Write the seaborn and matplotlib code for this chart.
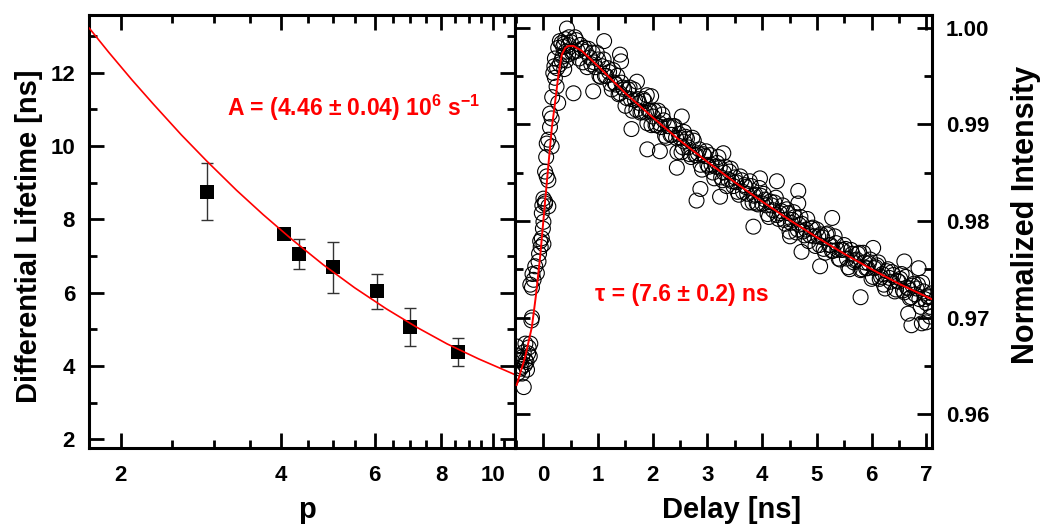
import matplotlib
matplotlib.use("Agg")
import matplotlib.pyplot as plt
from matplotlib.ticker import FixedLocator, FixedFormatter, NullFormatter, MultipleLocator, FormatStrFormatter
import seaborn as sns

# Panel izquierdo: tiempo de vida diferencial vs p
p_values = [2.90, 4.06, 4.32, 5.00, 6.05, 6.99, 8.61]
lifetime_ns = [8.75, 7.59, 7.05, 6.69, 6.03, 5.07, 4.38]
lifetime_err = [0.78, 0.0, 0.41, 0.70, 0.48, 0.52, 0.39]

fit_p = [1.744, 1.9, 2.1, 2.3, 2.6, 2.9, 3.3, 3.7, 4.2, 4.8, 5.5, 6.3, 7.2, 8.2, 9.4, 11.0]
fit_lifetime = [13.22, 12.55, 11.80, 11.15, 10.30, 9.59, 8.79, 8.13, 7.44, 6.76, 6.13, 5.56,
                5.05, 4.60, 4.19, 3.76]

# Panel derecho: intensidad normalizada vs retardo
rise_delay = [-0.49, -0.46, -0.45, -0.43, -0.40, -0.39, -0.39, -0.36, -0.36, -0.34,
              -0.33, -0.33, -0.30, -0.28, -0.27, -0.24, -0.22, -0.21, -0.24, -0.21,
              -0.18, -0.15, -0.12, -0.09, -0.06, -0.03, -0.05, 0.00, -0.03, 0.00,
              0.03, 0.09, 0.00, 0.03, -0.02, 0.03, 0.06, 0.09, 0.09, 0.06,
              0.15, 0.12, 0.15, 0.18, 0.21, 0.24, 0.27, 0.21, 0.27, 0.33,
              0.36, 0.30, 0.35, 0.40, 0.45, 0.40, 0.43, 0.38, 0.46, 0.25,
              0.30, 0.33, 0.38, 0.42, 0.47, 0.20, 0.16, 0.12, 0.05, -0.01,
              -0.08, -0.20, -0.25, -0.31, -0.42, -0.47]
rise_intensity = [0.9670, 0.9643, 0.9656, 0.9656, 0.9649, 0.9642, 0.9659, 0.9664, 0.9628, 0.9651,
                  0.9656, 0.9673, 0.9646, 0.9663, 0.9669, 0.9673, 0.9697, 0.9700, 0.9734, 0.9731,
                  0.9739, 0.9753, 0.9746, 0.9758, 0.9779, 0.9782, 0.9773, 0.9776, 0.9808, 0.9799,
                  0.9818, 0.9815, 0.9823, 0.9820, 0.9816, 0.9851, 0.9846, 0.9842, 0.9884, 0.9880,
                  0.9877, 0.9911, 0.9906, 0.9953, 0.9948, 0.9939, 0.9922, 0.9968, 0.9979, 0.9984,
                  0.9980, 0.9962, 0.9970, 0.9975, 0.9972, 0.9988, 0.9999, 0.9957, 0.9982, 0.9958,
                  0.9986, 0.9966, 0.9983, 0.9966, 0.9990, 0.9960, 0.9928, 0.9897, 0.9866, 0.9792,
                  0.9766, 0.9745, 0.9660, 0.9654, 0.9647, 0.9660]

decay_delay = [0.50, 0.55, 0.60, 0.65, 0.70, 0.75, 0.80, 0.85, 0.90, 0.95,
               1.00, 1.05, 1.10, 1.15, 1.20, 1.25, 1.30, 1.35, 1.40, 1.45,
               1.50, 1.55, 1.60, 1.65, 1.70, 1.75, 1.80, 1.85, 1.90, 1.95,
               2.00, 2.05, 2.10, 2.15, 2.20, 2.25, 2.30, 2.35, 2.40, 2.45,
               2.50, 2.55, 2.60, 2.65, 2.70, 2.75, 2.80, 2.85, 2.90, 2.95,
               3.00, 3.05, 3.10, 3.15, 3.20, 3.25, 3.30, 3.35, 3.40, 3.45,
               3.50, 3.55, 3.60, 3.65, 3.70, 3.75, 3.80, 3.85, 3.90, 3.95,
               4.00, 4.05, 4.10, 4.15, 4.20, 4.25, 4.30, 4.35, 4.40, 4.45,
               4.50, 4.55, 4.60, 4.65, 4.70, 4.75, 4.80, 4.85, 4.90, 4.95,
               5.00, 5.05, 5.10, 5.15, 5.20, 5.25, 5.30, 5.35, 5.40, 5.45,
               5.50, 5.55, 5.60, 5.65, 5.70, 5.75, 5.80, 5.85, 5.90, 5.95,
               6.00, 6.05, 6.10, 6.15, 6.20, 6.25, 6.30, 6.35, 6.40, 6.45,
               6.50, 6.55, 6.60, 6.65, 6.70, 6.75, 6.80, 6.85, 6.90, 6.95, 7.00, 7.05, 7.10]
decay_intensity = [0.9985, 0.9975, 0.9987, 0.9968, 0.9978, 0.9979, 0.9959, 0.9969, 0.9974, 0.9959,
                   0.9967, 0.9949, 0.9967, 0.9950, 0.9954, 0.9936, 0.9943, 0.9950, 0.9932, 0.9938,
                   0.9919, 0.9936, 0.9926, 0.9936, 0.9915, 0.9922, 0.9913, 0.9924, 0.9901, 0.9914,
                   0.9908, 0.9899, 0.9914, 0.9897, 0.9904, 0.9886, 0.9898, 0.9889, 0.9898, 0.9871,
                   0.9886, 0.9876, 0.9887, 0.9876, 0.9866, 0.9883, 0.9868, 0.9874, 0.9853, 0.9867,
                   0.9858, 0.9868, 0.9850, 0.9856, 0.9866, 0.9845, 0.9850, 0.9836, 0.9851, 0.9841,
                   0.9845, 0.9830, 0.9846, 0.9830, 0.9835, 0.9819, 0.9836, 0.9826, 0.9818, 0.9834,
                   0.9818, 0.9822, 0.9807, 0.9820, 0.9811, 0.9824, 0.9802, 0.9810, 0.9801, 0.9812,
                   0.9789, 0.9801, 0.9804, 0.9791, 0.9804, 0.9789, 0.9791, 0.9779, 0.9792, 0.9784,
                   0.9791, 0.9775, 0.9783, 0.9767, 0.9787, 0.9775, 0.9769, 0.9777, 0.9761, 0.9770,
                   0.9775, 0.9761, 0.9750, 0.9766, 0.9759, 0.9766, 0.9749, 0.9767, 0.9751, 0.9756,
                   0.9740, 0.9751, 0.9754, 0.9740, 0.9745, 0.9730, 0.9750, 0.9737, 0.9744, 0.9729,
                   0.9737, 0.9745, 0.9726, 0.9731, 0.9720, 0.9733, 0.9724, 0.9734, 0.9711, 0.9727,
                   0.9715, 0.9721, 0.9725]

decay2_delay = [0.525, 0.575, 0.625, 0.675, 0.725, 0.775, 0.825, 0.875, 0.925, 0.975,
                1.025, 1.075, 1.125, 1.175, 1.225, 1.275, 1.325, 1.375, 1.425, 1.475,
                1.525, 1.575, 1.625, 1.675, 1.725, 1.775, 1.825, 1.875, 1.925, 1.975,
                2.025, 2.075, 2.125, 2.175, 2.225, 2.275, 2.325, 2.375, 2.425, 2.475,
                2.525, 2.575, 2.625, 2.675, 2.725, 2.775, 2.825, 2.875, 2.925, 2.975,
                3.025, 3.075, 3.125, 3.175, 3.225, 3.275, 3.325, 3.375, 3.425, 3.475,
                3.525, 3.575, 3.625, 3.675, 3.725, 3.775, 3.825, 3.875, 3.925, 3.975,
                4.025, 4.075, 4.125, 4.175, 4.225, 4.275, 4.325, 4.375, 4.425, 4.475,
                4.525, 4.575, 4.625, 4.675, 4.725, 4.775, 4.825, 4.875, 4.925, 4.975,
                5.025, 5.075, 5.125, 5.175, 5.225, 5.275, 5.325, 5.375, 5.425, 5.475,
                5.525, 5.575, 5.625, 5.675, 5.725, 5.775, 5.825, 5.875, 5.925, 5.975,
                6.025, 6.075, 6.125, 6.175, 6.225, 6.275, 6.325, 6.375, 6.425, 6.475,
                6.525, 6.575, 6.625, 6.675, 6.725, 6.775, 6.825, 6.875, 6.925, 6.975, 7.025, 7.075]
decay2_intensity = [0.9974, 0.9990, 0.9976, 0.9982, 0.9964, 0.9975, 0.9978, 0.9962, 0.9964, 0.9974,
                    0.9950, 0.9960, 0.9950, 0.9958, 0.9942, 0.9956, 0.9941, 0.9931, 0.9943, 0.9936,
                    0.9927, 0.9938, 0.9914, 0.9925, 0.9926, 0.9912, 0.9926, 0.9912, 0.9914, 0.9899,
                    0.9914, 0.9899, 0.9901, 0.9910, 0.9888, 0.9898, 0.9889, 0.9898, 0.9886, 0.9890,
                    0.9871, 0.9882, 0.9885, 0.9869, 0.9886, 0.9868, 0.9870, 0.9858, 0.9869, 0.9872,
                    0.9856, 0.9858, 0.9844, 0.9860, 0.9855, 0.9842, 0.9856, 0.9843, 0.9854, 0.9836,
                    0.9840, 0.9827, 0.9842, 0.9837, 0.9828, 0.9841, 0.9819, 0.9827, 0.9817, 0.9826,
                    0.9828, 0.9816, 0.9804, 0.9816, 0.9819, 0.9806, 0.9808, 0.9816, 0.9797, 0.9808,
                    0.9798, 0.9809, 0.9788, 0.9796, 0.9797, 0.9785, 0.9802, 0.9785, 0.9793, 0.9774,
                    0.9784, 0.9786, 0.9771, 0.9786, 0.9775, 0.9769, 0.9784, 0.9770, 0.9760, 0.9770,
                    0.9771, 0.9752, 0.9770, 0.9757, 0.9760, 0.9767, 0.9750, 0.9757, 0.9751, 0.9760,
                    0.9742, 0.9752, 0.9757, 0.9742, 0.9734, 0.9748, 0.9741, 0.9747, 0.9727, 0.9738,
                    0.9740, 0.9728, 0.9742, 0.9730, 0.9721, 0.9735, 0.9730, 0.9719, 0.9736, 0.9719,
                    0.9722, 0.9711]

stray_delay = [1.11, 0.55, 0.91, 1.61, 1.40, 1.42, 1.71, 1.89, 1.97, 2.53,
               2.57, 1.90, 2.13, 2.44, 2.80, 2.87, 3.23, 3.29, 3.96, 4.27,
               4.66, 4.66, 3.84, 4.51, 4.72, 5.06, 5.28, 5.80, 6.03, 6.60,
               6.86, 6.92, 7.07, 6.67, 6.73, 7.00]
stray_intensity = [0.9986, 0.9932, 0.9934, 0.9895, 0.9972, 0.9965, 0.9944, 0.9930, 0.9929, 0.9908,
                   0.9892, 0.9874, 0.9872, 0.9855, 0.9821, 0.9833, 0.9825, 0.9870, 0.9844, 0.9841,
                   0.9831, 0.9818, 0.9794, 0.9784, 0.9768, 0.9753, 0.9803, 0.9721, 0.9772, 0.9758,
                   0.9751, 0.9694, 0.9701, 0.9704, 0.9692, 0.9695]

fit_delay = [-0.49, -0.335, -0.212, -0.139, -0.06, 0.0, 0.091, 0.153, 0.214, 0.274,
             0.336, 0.40, 0.457, 0.548, 0.70, 1.0, 1.5, 2.0, 2.5, 3.0,
             3.5, 4.0, 4.5, 5.0, 5.5, 6.0, 6.5, 7.1]
fit_intensity = [0.9630, 0.9659, 0.9690, 0.9722, 0.9763, 0.9801, 0.9858, 0.9896, 0.9923, 0.9951,
                 0.9972, 0.9979, 0.9981, 0.9981, 0.9976, 0.9960, 0.9932, 0.9907, 0.9883, 0.9861,
                 0.9840, 0.9820, 0.9801, 0.9783, 0.9766, 0.9750, 0.9735, 0.9719]

sns.set_theme(style="ticks")
plt.rcParams["font.family"] = ["Liberation Sans", "DejaVu Sans"]
plt.rcParams["font.weight"] = "bold"
plt.rcParams["axes.labelweight"] = "bold"
plt.rcParams["text.color"] = "black"
plt.rcParams["axes.labelcolor"] = "black"
plt.rcParams["xtick.color"] = "black"
plt.rcParams["ytick.color"] = "black"
plt.rcParams["mathtext.fontset"] = "custom"
plt.rcParams["mathtext.bf"] = "Liberation Sans:bold"
plt.rcParams["mathtext.rm"] = "Liberation Sans:bold"
plt.rcParams["mathtext.default"] = "bf"

fig = plt.figure(figsize=(10.46, 5.29), dpi=100)
ax1 = fig.add_axes([89 / 1046, 1 - 448 / 529, 426 / 1046, 433 / 529])
ax2 = fig.add_axes([515 / 1046, 1 - 448 / 529, 417 / 1046, 433 / 529])

# --- panel izquierdo ---
ax1.errorbar(p_values, lifetime_ns, yerr=lifetime_err, fmt="none", ecolor="#333333",
             elinewidth=1.0, capsize=4.5, capthick=1.0, zorder=2)
sns.scatterplot(x=p_values, y=lifetime_ns, marker="s", s=9.5 ** 2, color="black",
                edgecolor="black", linewidth=0, ax=ax1, zorder=3)
sns.lineplot(x=fit_p, y=fit_lifetime, sort=False, color="red", linewidth=1.2, ax=ax1, zorder=4)

ax1.set_xscale("log")
ax1.set_xlim(1.744, 11.0)
ax1.set_ylim(1.76, 13.57)
ax1.xaxis.set_major_locator(FixedLocator([2, 4, 6, 8, 10]))
ax1.xaxis.set_major_formatter(FixedFormatter(["2", "4", "6", "8", "10"]))
ax1.xaxis.set_minor_locator(FixedLocator([2.5, 3, 3.5, 4.5, 5, 5.5, 6.5, 7, 7.5, 8.5, 9, 9.5, 10.5]))
ax1.xaxis.set_minor_formatter(NullFormatter())
ax1.yaxis.set_major_locator(MultipleLocator(2))
ax1.yaxis.set_minor_locator(MultipleLocator(1))
ax1.set_xlabel("p", fontsize=21)
ax1.set_ylabel("Differential Lifetime [ns]", fontsize=21)
ax1.xaxis.set_label_coords(0.511, -0.11)
ax1.yaxis.set_label_coords(-0.108, 0.49)
ax1.text(0.324, 0.785, r"A = (4.46 ± 0.04) 10$^{6}$ s$^{-1}$", transform=ax1.transAxes,
         color="red", fontsize=16.5, fontweight="bold", ha="left", va="center")

# --- panel derecho ---
sns.scatterplot(x=rise_delay + decay_delay + decay2_delay + stray_delay,
                y=rise_intensity + decay_intensity + decay2_intensity + stray_intensity,
                marker="o", s=115, color="black", facecolor="none", edgecolor="black",
                linewidth=0.8, ax=ax2, zorder=2)
sns.lineplot(x=fit_delay, y=fit_intensity, sort=False, color="red", linewidth=1.4, ax=ax2, zorder=4)

ax2.set_xlim(-0.52, 7.106)
ax2.set_ylim(0.9565, 1.0013)
ax2.xaxis.set_major_locator(MultipleLocator(1))
ax2.xaxis.set_minor_locator(MultipleLocator(0.5))
ax2.yaxis.set_major_locator(MultipleLocator(0.01))
ax2.yaxis.set_minor_locator(MultipleLocator(0.005))
ax2.yaxis.set_major_formatter(FormatStrFormatter("%.2f"))
ax2.yaxis.tick_right()
ax2.yaxis.set_label_position("right")
ax2.set_xlabel("Delay [ns]", fontsize=21)
ax2.set_ylabel("Normalized Intensity", fontsize=22)
ax2.xaxis.set_label_coords(0.52, -0.11)
ax2.yaxis.set_label_coords(1.19, 0.538)
ax2.text(0.192, 0.355, "τ = (7.6 ± 0.2) ns", transform=ax2.transAxes,
         color="red", fontsize=16.5, fontweight="bold", ha="left", va="center")

for ax in (ax1, ax2):
    for sp in ax.spines.values():
        sp.set_linewidth(2.2)
        sp.set_color("black")
    ax.tick_params(which="both", direction="in", top=True, bottom=True, left=True, right=True,
                   width=2, color="black", labelcolor="black", labelsize=16)
    ax.tick_params(which="major", length=11)
    ax.tick_params(which="minor", length=6)
    ax.tick_params(axis="x", pad=12)
    ax.tick_params(axis="y", pad=10)
    ax.grid(False)

ax2.tick_params(axis="y", labelleft=False, labelright=True)
for lab in ax1.get_xticklabels() + ax1.get_yticklabels() + ax2.get_xticklabels() + ax2.get_yticklabels():
    lab.set_fontweight("bold")

fig.savefig("out.png", dpi=100)
